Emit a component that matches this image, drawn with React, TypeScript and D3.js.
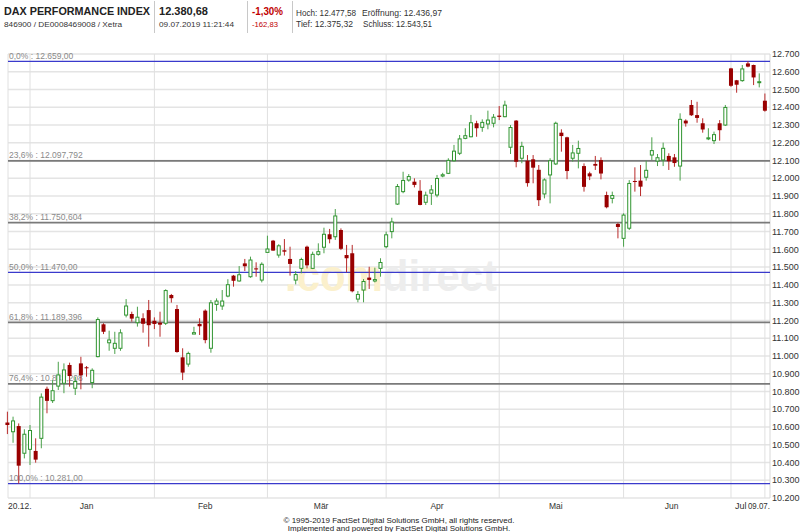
import React from "react";
import * as d3 from "d3";

const dates: string[] = [
  "2018-12-20","2018-12-21","2018-12-27","2018-12-28",
  "2019-01-02","2019-01-03","2019-01-04","2019-01-07","2019-01-08","2019-01-09","2019-01-10","2019-01-11",
  "2019-01-14","2019-01-15","2019-01-16","2019-01-17","2019-01-18","2019-01-21","2019-01-22","2019-01-23",
  "2019-01-24","2019-01-25","2019-01-28","2019-01-29","2019-01-30","2019-01-31",
  "2019-02-01","2019-02-04","2019-02-05","2019-02-06","2019-02-07","2019-02-08","2019-02-11","2019-02-12",
  "2019-02-13","2019-02-14","2019-02-15","2019-02-18","2019-02-19","2019-02-20","2019-02-21","2019-02-22",
  "2019-02-25","2019-02-26","2019-02-27","2019-02-28",
  "2019-03-01","2019-03-04","2019-03-05","2019-03-06","2019-03-07","2019-03-08","2019-03-11","2019-03-12",
  "2019-03-13","2019-03-14","2019-03-15","2019-03-18","2019-03-19","2019-03-20","2019-03-21","2019-03-22",
  "2019-03-25","2019-03-26","2019-03-27","2019-03-28","2019-03-29",
  "2019-04-01","2019-04-02","2019-04-03","2019-04-04","2019-04-05","2019-04-08","2019-04-09","2019-04-10",
  "2019-04-11","2019-04-12","2019-04-15","2019-04-16","2019-04-17","2019-04-18","2019-04-23","2019-04-24",
  "2019-04-25","2019-04-26","2019-04-29","2019-04-30",
  "2019-05-02","2019-05-03","2019-05-06","2019-05-07","2019-05-08","2019-05-09","2019-05-10","2019-05-13",
  "2019-05-14","2019-05-15","2019-05-16","2019-05-17","2019-05-20","2019-05-21","2019-05-22","2019-05-23",
  "2019-05-24","2019-05-27","2019-05-28","2019-05-29","2019-05-30","2019-05-31",
  "2019-06-03","2019-06-04","2019-06-05","2019-06-06","2019-06-07","2019-06-11","2019-06-12","2019-06-13",
  "2019-06-14","2019-06-17","2019-06-18","2019-06-19","2019-06-20","2019-06-21","2019-06-24","2019-06-25",
  "2019-06-26","2019-06-27","2019-06-28",
  "2019-07-01","2019-07-02","2019-07-03","2019-07-04","2019-07-05","2019-07-08","2019-07-09",
];

const opens: number[] = [
  10625,10573,10605,10452,
  10474,10465,10536,10815,10748,10830,10846,10949,10818,10958,10936,10850,10996,11178,11074,11043,11043,11230,11236,11187,11212,11258,
  11198,11187,11184,11343,11264,10992,10954,11123,11180,11255,11043,11290,11281,11337,11452,11422,11521,11446,11493,11427,
  11583,11649,11568,11595,11546,11427,11493,11615,11493,11572,11612,11685,11671,11709,11568,11578,11320,11371,11441,11422,11493,
  11615,11700,11855,11925,11990,11981,11930,11865,11916,11906,12013,12028,12099,12141,12225,12234,12310,12287,12306,12310,
  12353,12347,12175,12325,12113,12099,12107,12048,11912,12019,12081,12257,12231,12113,12141,12069,12028,12081,12103,11906,11887,11743,
  11662,11719,11985,11987,12006,12131,12097,12103,12126,12118,12069,12325,12413,12356,12310,12222,12212,12310,12300,
  12619,12552,12550,12647,12638,12540,12436.97,
];

const highs: number[] = [
  10686,10658,10620,10587,
  10611,10536,10789,10827,10864,10967,10958,10962,10883,10995,10943,10930,11217,11184,11142,11136,11150,11320,11249,11277,11240,11315,
  11217,11249,11375,11349,11287,11043,11024,11164,11212,11262,11315,11324,11371,11432,11456,11506,11546,11559,11527,11527,
  11677,11653,11629,11658,11615,11478,11553,11621,11587,11634,11722,11715,11827,11718,11625,11625,11365,11433,11502,11497,11550,
  11700,11778,11968,12037,12024,12000,11990,11925,11962,12019,12031,12113,12188,12244,12282,12357,12324,12332,12381,12362,
  12407,12437,12300,12328,12206,12131,12131,12075,12000,12113,12319,12276,12234,12188,12212,12084,12037,12126,12118,11925,11925,11750,
  11803,11990,12062,12075,12099,12231,12137,12201,12141,12137,12366,12332,12441,12431,12338,12282,12263,12328,12413,
  12622,12554,12638,12659,12640,12591,12477.58,
];

const lows: number[] = [
  10560,10511,10281,10423,
  10386,10399,10480,10677,10735,10808,10790,10827,10780,10812,10883,10818,10992,11123,11029,11011,11029,11217,11193,11165,11131,11052,
  11151,11108,11174,11300,11018,10864,10939,11123,11118,11071,11018,11254,11259,11330,11390,11418,11478,11440,11446,11414,
  11583,11592,11553,11565,11452,11403,11465,11493,11489,11565,11578,11634,11653,11596,11471,11358,11302,11302,11377,11414,11446,
  11606,11662,11850,11916,11981,11949,11848,11850,11850,11893,12006,12024,12094,12131,12220,12231,12234,12262,12276,12287,
  12328,12344,12137,12062,12085,11953,11972,11844,11887,11859,12075,12150,11995,12094,12056,11925,11990,12047,11994,11831,11859,11662,
  11615,11709,11925,11900,11987,12103,12069,12069,12047,12065,11987,12291,12351,12313,12257,12215,12193,12212,12295,
  12515,12482,12544,12625,12525,12512,12375.32,
];

const closes: number[] = [
  10611,10634,10382,10559,
  10580,10416,10768,10747,10804,10893,10921,10887,10856,10891,10931,10919,11205,11136,11090,11071,11130,11281,11210,11218,11181,11173,
  11180,11176,11368,11325,11022,10906,11014,11131,11167,11089,11299,11309,11309,11401,11423,11457,11505,11540,11487,11516,
  11602,11593,11620,11587,11518,11458,11543,11510,11572,11587,11685,11657,11788,11603,11550,11364,11346,11419,11428,11430,11526,
  11682,11754,11954,11988,12010,11963,11850,11905,11935,11999,12020,12101,12153,12222,12240,12313,12282,12315,12328,12344,
  12346,12412,12286,12093,12180,11973,12060,11877,11991,12099,12310,12238,12041,12143,12168,11952,12011,12071,12027,11837,11903,11726,
  11793,11971,11980,11953,12045,12156,12116,12169,12096,12086,12332,12309,12355,12340,12275,12228,12246,12271,12399,
  12521,12527,12616,12629,12568,12544,12380.68,
];

const monthNames: string[] = ["Jan", "Feb", "Mär", "Apr", "Mai", "Jun", "Jul"];
const yTicks: number[] = d3.range(10200, 12701, 100);
const fibRatios: number[] = [0, 0.236, 0.382, 0.5, 0.618, 0.764, 1];
const fibHigh = 12659;
const fibLow = 10281;
const firstLabel = "20.12.";
const lastLabel = "09.07.";

const FONT = "'Liberation Sans', Arial, Helvetica, sans-serif";

const de = d3.formatLocale({ decimal: ",", thousands: ".", grouping: [3], currency: ["", "€"] });
const fmtInt = de.format(",d");
const fmt2 = de.format(",.2f");
const fmt3 = de.format(",.3f");
const fmtPct = de.format(".1f");

export default function App() {
  const left = 8, right = 770, top = 54, bottom = 498;
  const n = dates.length;
  const x = d3.scaleLinear().domain([0, n - 1]).range([7.4, 764.9]);
  const y = d3.scaleLinear().domain([10200, 12700]).range([bottom, top]);

  const candles = dates.map((d, i) => ({ d, i, o: opens[i], h: highs[i], l: lows[i], c: closes[i] }));

  const monthStarts: number[] = [];
  for (let i = 1; i < n; i++) {
    if (dates[i].slice(5, 7) !== dates[i - 1].slice(5, 7)) monthStarts.push(i);
  }
  const monthLabels = monthStarts.map((s, k) => {
    const last = k + 1 >= monthStarts.length;
    const e = !last ? monthStarts[k + 1] - 1 : n - 1;
    return { name: monthNames[k], pos: (s + e) / 2 - 0.5, start: s, last };
  });
  const vGrid = [...monthStarts, n - 1];

  const fibs = fibRatios.map((r) => {
    const v = fibHigh - r * (fibHigh - fibLow);
    const isInt = Math.abs(v - Math.round(v)) < 1e-6;
    const label = `${fmtPct(r * 100)}% : ${isInt ? fmt2(v) : fmt3(v)}`;
    const blue = r === 0 || r === 0.5 || r === 1;
    return { v, label, blue };
  });

  const GREEN = "#2f942f";
  const GREEN_WICK = "#4aa04a";
  const RED = "#990000";
  const RED_WICK = "#b82a2a";

  return (
    <svg width={800} height={532} style={{ position: "absolute", left: 0, top: 0, background: "#fff" }} fontFamily={FONT}>
      <rect x={0} y={0} width={800} height={532} fill="#fff" />
      <g>
        <text x={4} y={15} fontSize={11} fontWeight="bold" fill="#222" textLength={146} lengthAdjust="spacingAndGlyphs">DAX PERFORMANCE INDEX</text>
        <text x={4} y={27} fontSize={8} fill="#333" textLength={118} lengthAdjust="spacingAndGlyphs">846900 / DE0008469008 / Xetra</text>
        <line x1={154.5} x2={154.5} y1={1} y2={33} stroke="#c8c8c8" />
        <text x={159} y={15} fontSize={11} fontWeight="bold" fill="#222" textLength={49} lengthAdjust="spacingAndGlyphs">12.380,68</text>
        <text x={159} y={27} fontSize={8} fill="#333" textLength={75} lengthAdjust="spacingAndGlyphs">09.07.2019 11:21:44</text>
        <line x1={247.5} x2={247.5} y1={1} y2={33} stroke="#c8c8c8" />
        <text x={252} y={15} fontSize={11} fontWeight="bold" fill="#c00000" textLength={31} lengthAdjust="spacingAndGlyphs">-1,30%</text>
        <text x={252} y={27} fontSize={8} fill="#c00000" textLength={26} lengthAdjust="spacingAndGlyphs">-162,83</text>
        <line x1={292.5} x2={292.5} y1={1} y2={33} stroke="#c8c8c8" />
        <text x={296} y={15.5} fontSize={8.5} fill="#333" textLength={60} lengthAdjust="spacingAndGlyphs">Hoch: 12.477,58</text>
        <text x={362} y={15.5} fontSize={8.5} fill="#333" textLength={80} lengthAdjust="spacingAndGlyphs">Eröffnung: 12.436,97</text>
        <text x={296} y={27} fontSize={8.5} fill="#333" textLength={57} lengthAdjust="spacingAndGlyphs">Tief: 12.375,32</text>
        <text x={363} y={27} fontSize={8.5} fill="#333" textLength={69} lengthAdjust="spacingAndGlyphs">Schluss: 12.543,51</text>
      </g>

      <g>
        {yTicks.map((t) => (
          <line key={"h" + t} x1={left} x2={right} y1={y(t)} y2={y(t)} stroke="#e4e4e4" strokeWidth={1.5} />
        ))}
        {vGrid.map((i) => (
          <line key={"v" + i} x1={x(i)} x2={x(i)} y1={top} y2={bottom} stroke="#e0e0e0" strokeWidth={1} />
        ))}
        <line x1={left} x2={left} y1={top} y2={bottom} stroke="#e0e0e0" />
        <line x1={right} x2={right} y1={top} y2={bottom} stroke="#d8d8d8" />
      </g>

      <text x={285} y={291} fontSize={44} fontWeight="bold" textLength={212} lengthAdjust="spacingAndGlyphs">
        <tspan fill="#fbf0cc">.com</tspan>
        <tspan fill="#ededed">direct</tspan>
      </text>

      <g>
        {fibs.map((f, k) => (
          <g key={"f" + k}>
            <line x1={left} x2={right} y1={y(f.v)} y2={y(f.v)} stroke={f.blue ? "#3a3acc" : "#7a7a7a"} strokeWidth={f.blue ? 1.3 : 1.8} />
            <text x={9} y={y(f.v) - 2.5} fontSize={8.5} fill="#8a8a8a">{f.label}</text>
          </g>
        ))}
      </g>

      <g>
        {candles.map((c) => {
          const cx = x(c.i);
          const up = c.c >= c.o;
          const yT = y(Math.max(c.o, c.c));
          const yB = y(Math.min(c.o, c.c));
          const hgt = Math.max(1, yB - yT);
          return (
            <g key={c.d}>
              <line x1={cx} x2={cx} y1={y(c.h)} y2={y(c.l)} stroke={up ? GREEN_WICK : RED_WICK} strokeWidth={1} />
              {up ? (
                <rect x={cx - 1.5} y={yT} width={3} height={hgt} fill="#fff" stroke={GREEN} strokeWidth={1} />
              ) : (
                <rect x={cx - 2} y={yT} width={4} height={hgt} fill={RED} />
              )}
            </g>
          );
        })}
      </g>

      <g>
        {yTicks.map((t) => (
          <text key={"yl" + t} x={772} y={y(t)} dy="0.35em" fontSize={9} fill="#333">{fmtInt(t)}</text>
        ))}
      </g>

      <g fontSize={8.5} fill="#333">
        <text x={x(0) + 0.6} y={509}>{firstLabel}</text>
        {monthLabels.map((m) =>
          m.last ? (
            <text key={m.name} x={x(m.start) + 4} y={509} textLength={11.5} lengthAdjust="spacingAndGlyphs">{m.name}</text>
          ) : (
            <text key={m.name} x={x(m.pos)} y={509} textAnchor="middle">{m.name}</text>
          )
        )}
        <text x={x(n - 1) + 5} y={509} textAnchor="end" textLength={22} lengthAdjust="spacingAndGlyphs">{lastLabel}</text>
      </g>

      <g fontSize={8} fill="#222" textAnchor="middle">
        <text x={399} y={522.5}>© 1995-2019 FactSet Digital Solutions GmbH, all rights reserved.</text>
        <text x={399} y={530.5}>Implemented and powered by FactSet Digital Solutions GmbH.</text>
      </g>
    </svg>
  );
}
